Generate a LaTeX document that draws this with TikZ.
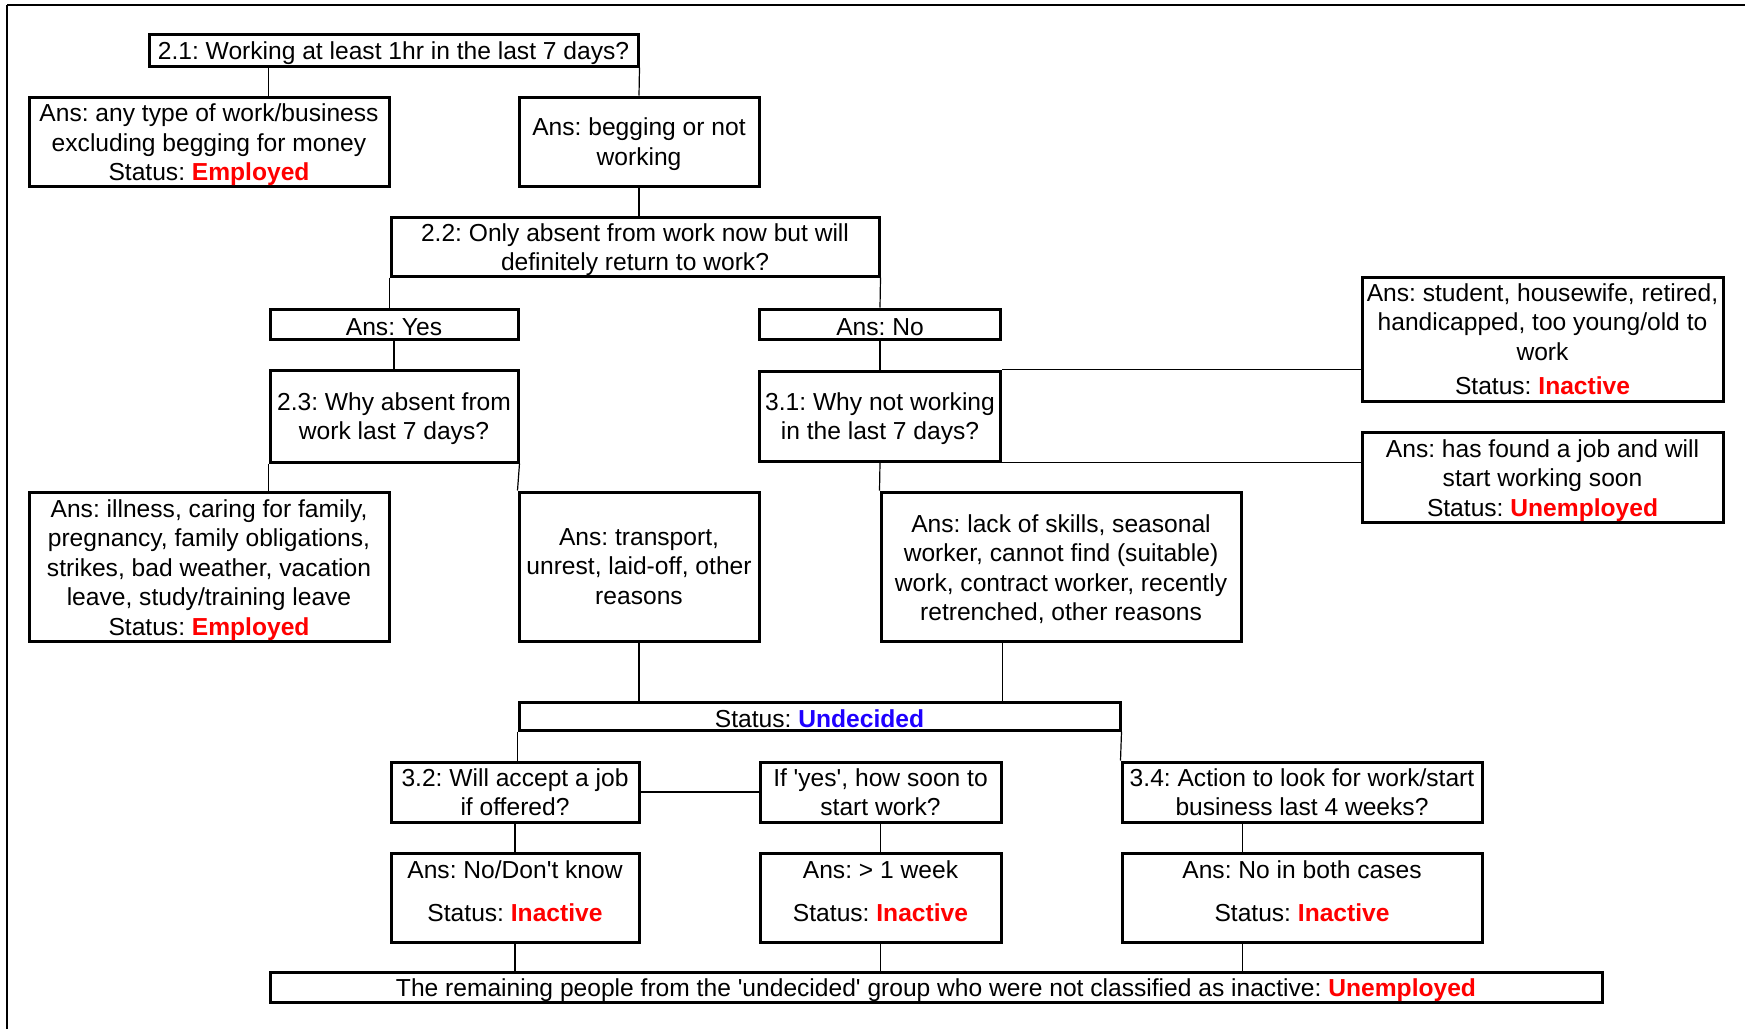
\documentclass[tikz,border=0pt]{standalone}
\usepackage{fontspec}
\setmainfont{Liberation Sans}
\frenchspacing
\definecolor{stred}{RGB}{255,0,0}
\definecolor{stblue}{RGB}{30,0,255}
\newcommand{\sred}[1]{\textcolor{stred}{\textbf{#1}}}
\newcommand{\sblue}[1]{\textcolor{stblue}{\textbf{#1}}}
\newcommand{\q}{\textquotesingle}
\newcommand{\tp}[1][12.5pt]{\rule{0pt}{#1}}

\begin{document}
\begin{tikzpicture}[x=0.5pt,y=-0.5pt,
  box/.style={draw,line width=1.5pt,inner sep=0pt,align=center,
    font=\fontsize{12.3}{14.75}\selectfont,
    execute at begin node={\rule{0pt}{12pt}}},
  wh/.style 2 args={minimum width=#1*0.5pt,minimum height=#2*0.5pt},
  link/.style={line width=0.6pt}]
\useasboundingbox (0,0) rectangle (1745,1029);
\draw[line width=0.7pt] (7,1029) -- (7,5);
\draw[line width=1pt] (7,5) -- (1745,5);

\node[box,wh={489}{32}]  (q21)    at (393.5,50)  {2.1: Working at least 1hr in the last 7 days?};
\node[box,wh={360}{89}]  (emp1)   at (209,141.5) {\tp[12.2pt]Ans: any type of work/business\\excluding begging for money\\Status: \sred{Employed}};
\node[box,wh={240}{89}]  (beg)    at (639,141.5) {\tp[11.5pt]Ans: begging or not\\working};
\node[box,wh={488}{59}]  (q22)    at (635,246.5) {\tp[12pt]2.2: Only absent from work now but will\\definitely return to work?};
\node[box,wh={248}{30}]  (ayes)   at (394,324)   {Ans: Yes};
\node[box,wh={241}{30}]  (ano)    at (880,324)   {Ans: No};
\node[box,wh={248}{92}]  (q23)    at (394,416)   {\tp[11.5pt]2.3: Why absent from\\work last 7 days?};
\node[box,wh={241}{90}]  (q31)    at (880,416)   {\tp[11.5pt]3.1: Why not working\\in the last 7 days?};
\node[box,wh={361}{124}] (inact1) at (1542.5,339) {Ans: student, housewife, retired,\\handicapped, too young/old to\\work\\[2.5pt]Status: \sred{Inactive}};
\node[box,wh={361}{90}]  (unemp1) at (1542.5,477) {\tp Ans: has found a job and will\\start working soon\\Status: \sred{Unemployed}};
\node[box,wh={360}{149}] (emp2)   at (209,566.5) {\tp Ans: illness, caring for family,\\pregnancy, family obligations,\\strikes, bad weather, vacation\\leave, study/training leave\\Status: \sred{Employed}};
\node[box,wh={240}{149}] (trans)  at (639,566.5) {Ans: transport,\\unrest, laid-off, other\\reasons};
\node[box,wh={360}{149}] (lack)   at (1061,566.5) {\tp[11.5pt]Ans: lack of skills, seasonal\\worker, cannot find (suitable)\\work, contract worker, recently\\retrenched, other reasons};
\node[box,wh={601}{28}]  (undec)  at (819.5,716) {Status: \sblue{Undecided}};
\node[box,wh={248}{60}]  (q32)    at (515,792)   {3.2: Will accept a job\\if offered?};
\node[box,wh={241}{60}]  (soon)   at (880.5,792) {If \q yes\q, how soon to\\start work?};
\node[box,wh={360}{60}]  (q34)    at (1302,792)  {3.4: Action to look for work/start\\business last 4 weeks?};
\node[box,wh={248}{89}]  (nodk)   at (515,897.5) {\tp Ans: No/Don\q t know\\[6.75pt]Status: \sred{Inactive}\\[-4.75pt]\mbox{}};
\node[box,wh={241}{89}]  (week)   at (880.5,897.5) {\tp Ans: > 1 week\\[6.75pt]Status: \sred{Inactive}\\[-4.75pt]\mbox{}};
\node[box,wh={360}{89}]  (noboth) at (1302,897.5) {\tp Ans: No in both cases\\[6.75pt]Status: \sred{Inactive}\\[-4.75pt]\mbox{}};
\node[box,wh={1332}{29}] (remain) at (936,987.5) {The remaining people from the \q undecided\q{} group who were not classified as inactive: \sred{Unemployed}};

\draw[link] (q21.south -| ayes.west) -- (emp1.north -| ayes.west);
\draw[link] (q21.south east) -- (beg.north);
\draw[link] (beg.south) -- (beg.south |- q22.north);
\draw[link] (q22.south west) -- (q22.south west |- ayes.north);
\draw[link] (q22.south east) -- (ano.north);
\draw[link] (ayes.south) -- (q23.north);
\draw[link] (ano.south) -- (q31.north);
\draw[link] (q31.north east) -- (q31.north east -| inact1.west);
\draw[link] (q31.south east) -- (q31.south east -| unemp1.west);
\draw[link] (q23.south west) -- (q23.south west |- emp2.north);
\draw[link] (q23.south east) -- (trans.north west);
\draw[link] (q31.south) -- (lack.north west);
\draw[link] (trans.south) -- (trans.south |- undec.north);
\draw[link] (lack.south -| soon.east) -- (undec.north -| soon.east);
\draw[link] (undec.south west) -- (undec.south west |- q32.north);
\draw[link] (undec.south east) -- (q34.north west);
\draw[link] (q32.east) -- (soon.west);
\draw[link] (q32.south) -- (nodk.north);
\draw[link] (soon.south) -- (week.north);
\draw[link] (q34.south -| lack.east) -- (noboth.north -| lack.east);
\draw[link] (nodk.south) -- (nodk.south |- remain.north);
\draw[link] (week.south) -- (week.south |- remain.north);
\draw[link] (noboth.south -| lack.east) -- (remain.north -| lack.east);
\end{tikzpicture}
\end{document}
